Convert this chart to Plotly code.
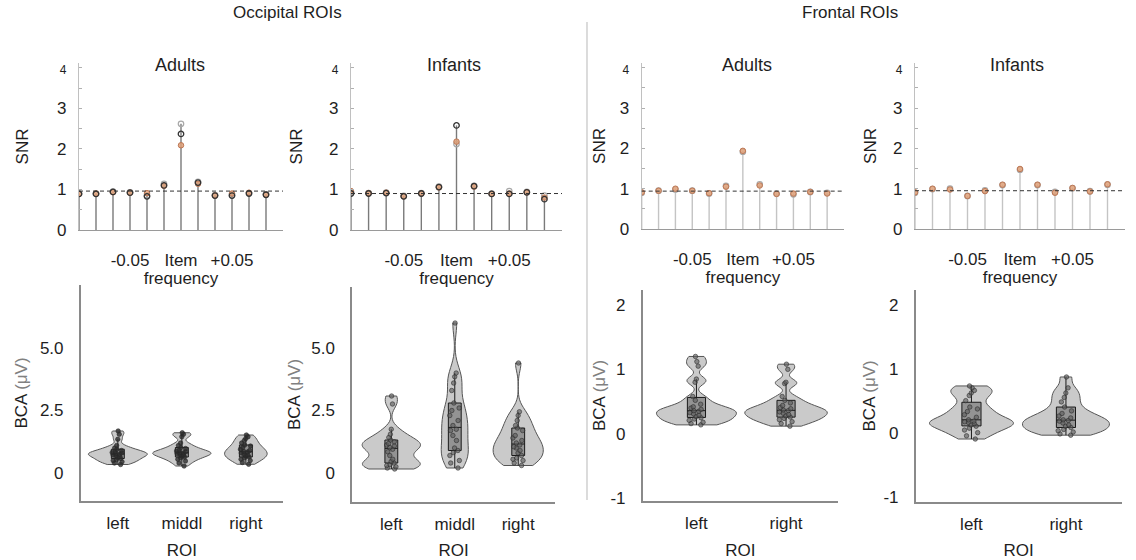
import plotly.graph_objects as go

W, H = 1136, 560
FONT = "Liberation Sans, Arial, sans-serif"
TXT = "#1e1e1e"

# ---------------- data: SNR spectra ----------------
freq_bins = [-6, -5, -4, -3, -2, -1, 0, 1, 2, 3, 4, 5]
freq_tickvals = [-3, 0, 3]
freq_ticktext = ["-0.05", "Item", "+0.05"]

occ_adult_dark = [0.89, 0.89, 0.94, 0.92, 0.83, 1.10, 2.37, 1.17, 0.85, 0.85, 0.90, 0.87]
occ_adult_light = [0.90, 0.90, 0.95, 0.93, 0.85, 1.14, 2.62, 1.19, 0.86, 0.86, 0.91, 0.88]
occ_adult_orange = [0.89, 0.90, 0.93, 0.92, 0.91, 1.09, 2.09, 1.14, 0.85, 0.90, 0.92, 0.87]
occ_adult_noise = 0.96

occ_infant_dark = [0.90, 0.90, 0.91, 0.83, 0.90, 1.06, 2.58, 1.08, 0.89, 0.89, 0.93, 0.76]
occ_infant_light = [0.92, 0.91, 0.92, 0.84, 0.91, 1.07, 2.12, 1.09, 0.90, 0.96, 0.94, 0.85]
occ_infant_orange = [0.96, 0.91, 0.92, 0.83, 0.90, 1.05, 2.18, 1.07, 0.89, 0.90, 0.93, 0.80]
occ_infant_noise = 0.90

fro_adult_orange = [0.91, 0.95, 1.00, 0.95, 0.89, 1.05, 1.94, 1.08, 0.87, 0.88, 0.92, 0.88]
fro_adult_light = [0.90, 0.95, 0.98, 0.95, 0.88, 1.07, 1.92, 1.11, 0.88, 0.86, 0.92, 0.90]
fro_adult_noise = 0.94

fro_infant_orange = [0.91, 1.00, 0.98, 0.82, 0.94, 1.10, 1.49, 1.10, 0.90, 1.02, 0.93, 1.11]
fro_infant_light = [0.90, 0.99, 1.00, 0.82, 0.96, 1.09, 1.47, 1.09, 0.92, 1.01, 0.94, 1.10]
fro_infant_noise = 0.95

snr_tickvals = [0, 1, 2, 3, 4]
snr_ticktext = ["0", "1", "2", "3", '<span style="font-size:12px">4</span>']

# ---------------- data: BCA per participant ----------------
roi_occ = ["left", "middl", "right"]
roi_fro = ["left", "right"]

occ_adult_left = [1.68, 1.55, 1.35, 1.10, 1.00, 0.95, 0.90, 0.86, 0.82, 0.80, 0.78,
                  0.75, 0.72, 0.70, 0.66, 0.62, 0.58, 0.54, 0.50, 0.45, 0.40, 0.34]
occ_adult_middl = [1.61, 1.55, 1.45, 1.20, 1.10, 1.02, 0.98, 0.92, 0.88, 0.85, 0.82,
                   0.80, 0.78, 0.75, 0.72, 0.68, 0.64, 0.60, 0.55, 0.48, 0.40, 0.28]
occ_adult_right = [1.52, 1.45, 1.38, 1.30, 1.20, 1.12, 1.08, 1.02, 0.95, 0.90, 0.86,
                   0.84, 0.80, 0.76, 0.72, 0.68, 0.64, 0.60, 0.55, 0.50, 0.42, 0.35]

occ_infant_left = [3.08, 2.76, 1.75, 1.55, 1.42, 1.32, 1.25, 1.18, 1.12, 1.08, 1.02,
                   0.95, 0.85, 0.70, 0.55, 0.46, 0.40, 0.34, 0.30, 0.25, 0.20, 0.16]
occ_infant_middl = [6.00, 4.00, 3.85, 3.60, 3.30, 2.80, 2.60, 2.50, 2.30, 2.10, 1.90,
                    1.75, 1.70, 1.50, 1.30, 1.00, 0.90, 0.82, 0.70, 0.50, 0.40, 0.20]
occ_infant_right = [4.40, 2.45, 2.30, 2.10, 1.90, 1.80, 1.70, 1.50, 1.40, 1.30, 1.20,
                    1.12, 1.05, 1.00, 0.90, 0.80, 0.70, 0.60, 0.55, 0.50, 0.40, 0.30]

fro_adult_left = [1.20, 1.12, 1.05, 0.85, 0.80, 0.58, 0.52, 0.46, 0.42, 0.40, 0.38, 0.36,
                  0.35, 0.33, 0.31, 0.29, 0.27, 0.25, 0.23, 0.21, 0.18, 0.16, 0.14]
fro_adult_right = [1.08, 1.00, 0.80, 0.78, 0.58, 0.52, 0.48, 0.44, 0.41, 0.39, 0.37,
                   0.36, 0.34, 0.32, 0.30, 0.28, 0.26, 0.24, 0.22, 0.19, 0.16, 0.12]

fro_infant_left = [0.73, 0.70, 0.66, 0.62, 0.58, 0.50, 0.40, 0.37, 0.33, 0.28, 0.24, 0.20,
                   0.18, 0.17, 0.16, 0.14, 0.12, 0.10, 0.07, 0.04, 0.00, -0.05, -0.10]
fro_infant_right = [0.87, 0.70, 0.62, 0.55, 0.48, 0.40, 0.34, 0.30, 0.26, 0.23, 0.20,
                    0.19, 0.18, 0.15, 0.12, 0.10, 0.08, 0.05, 0.03, 0.01, -0.02, -0.04]

# ---------------- helpers ----------------
def fx(px):
    return px / W


def fy(px):
    return 1 - px / H


fig = go.Figure()

DARK = "#333333"
LIGHT = "#a8a8a8"
ORANGE_FILL = "rgba(222,160,120,0.85)"
ORANGE_LINE = "rgba(190,120,85,1)"


def stems(series_list, xa, ya, color):
    xs, ys = [], []
    for i, f in enumerate(freq_bins):
        top = max(s[i] for s in series_list)
        xs += [f, f, None]
        ys += [0, top, None]
    fig.add_trace(go.Scatter(x=xs, y=ys, mode="lines", xaxis=xa, yaxis=ya,
                             line=dict(color=color, width=1.4),
                             showlegend=False, hoverinfo="skip"))


def markers(vals, xa, ya, kind):
    if kind == "orange":
        m = dict(symbol="circle", size=5.5, color=ORANGE_FILL,
                 line=dict(color=ORANGE_LINE, width=1))
    elif kind == "dark":
        m = dict(symbol="circle-open", size=5.5, color=DARK, line=dict(width=1.3))
    else:
        m = dict(symbol="circle-open", size=5.5, color=LIGHT, line=dict(width=1.2))
    fig.add_trace(go.Scatter(x=freq_bins, y=vals, mode="markers", xaxis=xa, yaxis=ya,
                             marker=m, showlegend=False))


# Occipital adults
stems([occ_adult_dark, occ_adult_light, occ_adult_orange], "x", "y", "#7a7a7a")
markers(occ_adult_light, "x", "y", "light")
markers(occ_adult_orange, "x", "y", "orange")
markers(occ_adult_dark, "x", "y", "dark")
# Occipital infants
stems([occ_infant_dark, occ_infant_light, occ_infant_orange], "x2", "y2", "#7a7a7a")
markers(occ_infant_light, "x2", "y2", "light")
markers(occ_infant_orange, "x2", "y2", "orange")
markers(occ_infant_dark, "x2", "y2", "dark")
# Frontal adults
stems([fro_adult_orange, fro_adult_light], "x3", "y3", "#c4c4c4")
markers(fro_adult_light, "x3", "y3", "light")
markers(fro_adult_orange, "x3", "y3", "orange")
# Frontal infants
stems([fro_infant_orange, fro_infant_light], "x4", "y4", "#c4c4c4")
markers(fro_infant_light, "x4", "y4", "light")
markers(fro_infant_orange, "x4", "y4", "orange")


def violin(name, vals, xa, ya, bw, group, pt_color="rgba(95,95,95,0.65)"):
    # no explicit width, so that violins in one panel share a scale group (equal area)
    fig.add_trace(go.Violin(
        x=[name] * len(vals), y=vals, xaxis=xa, yaxis=ya, name=name,
        spanmode="hard", bandwidth=bw, scalemode="width", scalegroup=group,
        fillcolor="rgb(202,202,202)", line=dict(color="#555555", width=1),
        box=dict(visible=True, width=0.22, fillcolor="rgba(80,80,80,0.45)",
                 line=dict(color="#1a1a1a", width=1)),
        meanline=dict(visible=False),
        points="all", pointpos=0, jitter=0.22,
        marker=dict(size=4.5, color=pt_color,
                    line=dict(color="rgba(40,40,40,0.8)", width=0.7)),
        showlegend=False))


ADULT_PT = "rgba(45,45,45,0.8)"
violin("left", occ_adult_left, "x5", "y5", 0.10, "g5", ADULT_PT)
violin("middl", occ_adult_middl, "x5", "y5", 0.10, "g5", ADULT_PT)
violin("right", occ_adult_right, "x5", "y5", 0.17, "g5", ADULT_PT)
violin("left", occ_infant_left, "x6", "y6", 0.22, "g6")
violin("middl", occ_infant_middl, "x6", "y6", 0.45, "g6")
violin("right", occ_infant_right, "x6", "y6", 0.32, "g6")
violin("left", fro_adult_left, "x7", "y7", 0.06, "g7")
violin("right", fro_adult_right, "x7", "y7", 0.06, "g7")
violin("left", fro_infant_left, "x8", "y8", 0.08, "g8")
violin("right", fro_infant_right, "x8", "y8", 0.08, "g8")

# ---------------- axes ----------------
tickfont = dict(family=FONT, size=17, color=TXT)
titlefont = dict(family=FONT, size=17, color=TXT)

top_panels = [  # x-domain px, y-domain px, title standoff for y
    ("", (79, 283), (63, 230), 24),
    ("2", (351, 562), (63, 230), 22),
    ("3", (641.7, 844), (63, 229), 9),
    ("4", (915, 1125), (63, 229), 12),
]
layout = {}
for suf, (x0, x1), (y0, y1), so in top_panels:
    layout["xaxis" + suf] = dict(
        domain=[fx(x0), fx(x1)], anchor="y" + suf, range=[-6, 6],
        tickmode="array", tickvals=freq_tickvals, ticktext=freq_ticktext,
        showline=True, linecolor="#9a9a9a", linewidth=1.2, ticks="", showgrid=False,
        zeroline=False, tickfont=tickfont, ticklabelstandoff=14,
        title=dict(text="frequency", font=titlefont, standoff=2), automargin=False)
    layout["yaxis" + suf] = dict(
        domain=[fy(y1), fy(y0)], anchor="x" + suf, range=[0, 4.12],
        tickmode="array", tickvals=snr_tickvals, ticktext=snr_ticktext,
        ticks="inside", ticklen=3, tickcolor="#b0b0b0",
        minor=dict(tickvals=[0.5, 1.5, 2.5, 3.5], ticks="inside", ticklen=3, tickcolor="#b0b0b0"),
        showline=True, linecolor="#c0c0c0", linewidth=1.2, showgrid=False, zeroline=False,
        tickfont=tickfont, ticklabelstandoff=8,
        title=dict(text="SNR", font=dict(family=FONT, size=17, color=TXT), standoff=so),
        automargin=False)

bca_title = 'BCA <span style="color:#808080">(μV)</span>'
bottom_panels = [
    ("5", (80.7, 283), (285, 501), [-1.12, 7.52], roi_occ, [-0.58, 2.58],
     [0, 2.5, 5.0], ["0", "2.5", "5.0"], 8),
    ("6", (352, 555), (287, 502), [-1.16, 7.44], roi_occ, [-0.62, 2.58],
     [0, 2.5, 5.0], ["0", "2.5", "5.0"], 6),
    ("7", (642.7, 838), (290, 501), [-1.04, 2.23], roi_fro, [-0.6, 1.58],
     [-1, 0, 1, 2], ["-1", "0", "1", "2"], 0),
    ("8", (915.7, 1121.7), (290, 501.7), [-1.08, 2.23], roi_fro, [-0.59, 1.59],
     [-1, 0, 1, 2], ["-1", "0", "1", "2"], 3),
]
for suf, (x0, x1), (y0, y1), yr, cats, xr, tv, tt, so in bottom_panels:
    layout["xaxis" + suf] = dict(
        domain=[fx(x0), fx(x1)], anchor="y" + suf, type="category",
        categoryorder="array", categoryarray=cats, range=xr,
        showline=True, linecolor="#8a8a8a", linewidth=1.5, ticks="", showgrid=False,
        zeroline=False, tickfont=tickfont, ticklabelstandoff=6,
        title=dict(text="ROI", font=titlefont, standoff=12), automargin=False)
    layout["yaxis" + suf] = dict(
        domain=[fy(y1), fy(y0)], anchor="x" + suf, range=yr,
        tickmode="array", tickvals=tv, ticktext=tt, ticks="",
        showline=True, linecolor="#8a8a8a", linewidth=1.5, showgrid=False, zeroline=False,
        tickfont=tickfont, ticklabelstandoff=12,
        title=dict(text=bca_title, font=titlefont, standoff=so), automargin=False)

# ---------------- shapes & annotations ----------------
shapes = []
for suf, lvl in [("", occ_adult_noise), ("2", occ_infant_noise),
                 ("3", fro_adult_noise), ("4", fro_infant_noise)]:
    shapes.append(dict(type="line", xref=("x" + suf) + " domain", yref="y" + suf,
                       x0=0, x1=1, y0=lvl, y1=lvl,
                       line=dict(color="#333333", width=1, dash="4px,3px")))
shapes.append(dict(type="line", xref="paper", yref="paper", x0=fx(587), x1=fx(587),
                   y0=fy(22), y1=fy(500), line=dict(color="#c4c4c4", width=1.2)))

annotations = []
for txt, xpx, ypx, size in [("Occipital ROIs", 287, 12, 17), ("Frontal ROIs", 850, 12, 17),
                            ("Adults", 180, 65, 18), ("Infants", 454, 65, 18),
                            ("Adults", 747, 65, 18), ("Infants", 1017, 65, 18)]:
    annotations.append(dict(text=txt, x=fx(xpx), y=fy(ypx), xref="paper", yref="paper",
                            showarrow=False, xanchor="center", yanchor="middle",
                            font=dict(family=FONT, size=size, color=TXT)))

fig.update_layout(
    width=W, height=H, margin=dict(l=0, r=0, t=0, b=0),
    paper_bgcolor="white", plot_bgcolor="white",
    font=dict(family=FONT, color=TXT), violinmode="overlay",
    violingap=0.08, violingroupgap=0,
    shapes=shapes, annotations=annotations, **layout)

fig.write_html("out.html", config={"displayModeBar": False},
               post_script="document.body.style.margin='0px';"
                           "document.body.style.overflow='hidden';")
